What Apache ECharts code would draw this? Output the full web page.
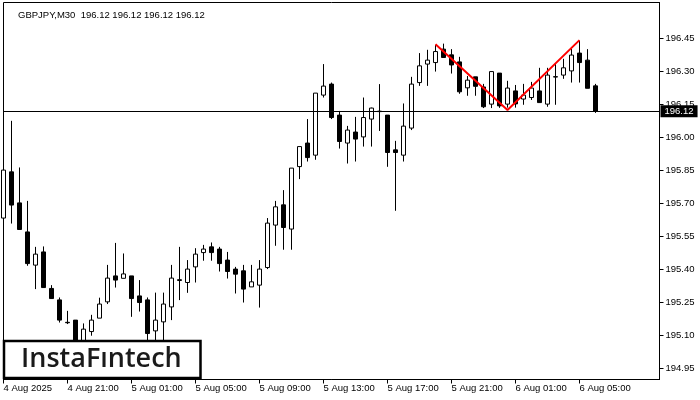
<!DOCTYPE html>
<html>
<head>
<meta charset="utf-8">
<script src="https://cdn.jsdelivr.net/npm/echarts@6/dist/echarts.min.js"></script>
<style>
html,body{margin:0;padding:0;background:#fff;}
#chart{width:700px;height:400px;}
</style>
</head>
<body>
<div id="chart"></div>
<script>
var categories = [
"4 Aug 17:00","4 Aug 17:30","4 Aug 18:00","4 Aug 18:30","4 Aug 19:00","4 Aug 19:30","4 Aug 20:00","4 Aug 20:30",
"4 Aug 21:00","4 Aug 21:30","4 Aug 22:00","4 Aug 22:30","4 Aug 23:00","4 Aug 23:30",
"5 Aug 00:00","5 Aug 00:30","5 Aug 01:00","5 Aug 01:30","5 Aug 02:00","5 Aug 02:30","5 Aug 03:00","5 Aug 03:30",
"5 Aug 04:00","5 Aug 04:30","5 Aug 05:00","5 Aug 05:30","5 Aug 06:00","5 Aug 06:30","5 Aug 07:00","5 Aug 07:30",
"5 Aug 08:00","5 Aug 08:30","5 Aug 09:00","5 Aug 09:30","5 Aug 10:00","5 Aug 10:30","5 Aug 11:00","5 Aug 11:30",
"5 Aug 12:00","5 Aug 12:30","5 Aug 13:00","5 Aug 13:30","5 Aug 14:00","5 Aug 14:30","5 Aug 15:00","5 Aug 15:30",
"5 Aug 16:00","5 Aug 16:30","5 Aug 17:00","5 Aug 17:30","5 Aug 18:00","5 Aug 18:30","5 Aug 19:00","5 Aug 19:30",
"5 Aug 20:00","5 Aug 20:30","5 Aug 21:00","5 Aug 21:30","5 Aug 22:00","5 Aug 22:30","5 Aug 23:00","5 Aug 23:30",
"6 Aug 00:00","6 Aug 00:30","6 Aug 01:00","6 Aug 01:30","6 Aug 02:00","6 Aug 02:30","6 Aug 03:00","6 Aug 03:30",
"6 Aug 04:00","6 Aug 04:30","6 Aug 05:00","6 Aug 05:30","6 Aug 06:00","6 Aug 06:30","6 Aug 07:00","6 Aug 07:30",
"6 Aug 08:00","6 Aug 08:30","6 Aug 09:00","6 Aug 09:30","6 Aug 10:00"
];

var openValues = [
195.634,195.844,195.703,195.571,195.420,195.480,195.314,195.262,195.160,195.170,
195.050,195.118,195.179,195.253,195.371,195.360,195.371,195.280,195.262,195.121,
195.162,195.230,195.350,195.341,195.412,195.477,195.503,195.493,195.443,195.402,
195.394,195.321,195.329,195.409,195.602,195.694,195.584,195.868,195.975,195.920,
196.193,196.243,196.102,195.975,196.025,196.003,196.084,196.118,196.102,195.944,
195.920,196.043,196.250,196.334,196.341,196.402,196.376,196.344,196.226,196.276,
196.230,196.152,196.293,196.152,196.212,196.175,196.182,196.212,196.152,196.275,
196.284,196.303,196.384,196.352,196.235
];
var closeValues = [
195.852,195.693,195.582,195.427,195.470,195.318,195.268,195.170,195.158,195.050,
195.129,195.170,195.243,195.361,195.352,195.380,195.268,195.250,195.109,195.170,
195.243,195.361,195.354,195.402,195.470,195.493,195.477,195.427,195.391,195.379,
195.311,195.344,195.402,195.611,195.685,195.591,195.861,195.959,195.909,196.202,
196.234,196.091,195.982,196.034,195.993,196.091,196.134,196.120,195.932,195.932,
196.052,196.243,196.326,196.352,196.391,196.364,196.330,196.208,196.261,196.233,
196.140,196.300,196.144,196.225,196.153,196.193,196.225,196.159,196.284,196.277,
196.317,196.375,196.341,196.224,196.120
];
var lowValues = [
195.545,195.609,195.580,195.417,195.311,195.316,195.266,195.159,195.152,195.010,
195.020,195.099,195.179,195.243,195.318,195.360,195.185,195.209,195.060,195.075,
195.076,195.170,195.261,195.294,195.341,195.440,195.440,195.391,195.359,195.291,
195.250,195.321,195.227,195.402,195.508,195.490,195.490,195.811,195.891,195.899,
196.182,196.084,195.950,195.882,195.891,195.959,195.959,196.030,195.867,195.667,
195.891,196.034,196.235,196.235,196.300,196.364,196.291,196.199,196.190,196.190,
196.134,196.134,196.135,196.136,196.136,196.149,196.171,196.159,196.140,196.149,
196.267,196.250,196.250,196.224,196.112
];
var highValues = [
195.909,196.076,195.864,195.712,195.503,195.505,195.329,195.273,195.212,195.170,
195.155,195.194,195.272,195.421,195.521,195.473,195.371,195.352,195.273,195.295,
195.295,195.421,195.503,195.443,195.497,195.512,195.523,195.503,195.480,195.412,
195.421,195.421,195.443,195.634,195.712,195.761,195.861,195.959,196.084,196.202,
196.334,196.250,196.121,196.053,196.094,196.182,196.136,196.243,196.102,195.985,
196.155,196.276,196.384,196.399,196.421,196.427,196.402,196.367,196.280,196.276,
196.244,196.300,196.293,196.258,196.239,196.244,196.253,196.317,196.317,196.335,
196.358,196.403,196.440,196.402,196.244
];

// double-top pattern outline (start, trough, end)
var patternIndex = [54, 63, 72];
var patternPrice = [196.424, 196.125, 196.443];

var lastPrice = 196.12;
var titleText = "GBPJPY,M30  196.12 196.12 196.12 196.12";
var priceTicks = [194.95,195.10,195.25,195.40,195.55,195.70,195.85,196.00,196.15,196.30,196.45];
var timeTickIndex = [0,8,16,24,32,40,48,56,64,72];
var timeTickLabels = ["4 Aug 2025","4 Aug 21:00","5 Aug 01:00","5 Aug 05:00","5 Aug 09:00","5 Aug 13:00","5 Aug 17:00","5 Aug 21:00","6 Aug 01:00","6 Aug 05:00"];

var candleData = openValues.map(function(o, i){
  return [o, closeValues[i], lowValues[i], highValues[i]];
});
var patternData = patternIndex.map(function(ix, k){ return [ix, patternPrice[k]]; });

var FONT = '"Liberation Sans", Arial, sans-serif';
var chart = echarts.init(document.getElementById('chart'), null, {renderer:'canvas'});
chart.setOption({
  animation: false,
  backgroundColor: '#ffffff',
  title: {
    text: titleText, left: 13, top: 5,
    textStyle: {fontSize: 9.5, fontWeight: 'normal', color: '#000', fontFamily: FONT}
  },
  grid: {
    left: 3.5, top: 2.5, width: 656, height: 377,
    show: true, borderColor: '#000', borderWidth: 1, backgroundColor: '#fff'
  },
  xAxis: {
    type: 'category', data: categories, boundaryGap: false,
    axisLine: {show: true, lineStyle: {color: '#000', width: 1}},
    axisTick: {show: true, length: 4, lineStyle: {color: '#000'},
      interval: function(i){ return timeTickIndex.indexOf(i) >= 0; }},
    axisLabel: {
      show: true, margin: 4, align: 'left', color: '#000', fontSize: 9.5, fontFamily: FONT,
      interval: function(i){ return timeTickIndex.indexOf(i) >= 0; },
      formatter: function(v, i){ var k = timeTickIndex.indexOf(i); return k >= 0 ? timeTickLabels[k] : ''; }
    },
    splitLine: {show: false}
  },
  yAxis: {
    type: 'value', position: 'right', min: 194.900, max: 196.614, scale: true,
    axisLine: {show: true, lineStyle: {color: '#000', width: 1}},
    axisTick: {show: true, length: 4, lineStyle: {color: '#000'}, customValues: priceTicks},
    axisLabel: {show: true, margin: 6, color: '#000', fontSize: 9.5, fontFamily: FONT,
      customValues: priceTicks, formatter: function(v){ return v.toFixed(2); }},
    splitLine: {show: false}
  },
  series: [
    {
      type: 'candlestick', data: candleData, barWidth: 4, clip: true,
      itemStyle: {color: '#ffffff', color0: '#000000', borderColor: '#000000', borderColor0: '#000000', borderWidth: 1},
      markLine: {
        silent: true, symbol: ['none','none'], animation: false,
        lineStyle: {color: '#000', width: 1, type: 'solid'},
        label: {show: true, position: 'end', distance: 1, formatter: lastPrice.toFixed(2),
          backgroundColor: '#000', color: '#fff', fontSize: 9.5, fontFamily: FONT, padding: [1,4,1,4]},
        data: [{yAxis: lastPrice}]
      },
      z: 2
    },
    {
      type: 'line', data: patternData, showSymbol: false, symbol: 'none',
      lineStyle: {color: '#ff0000', width: 2}, z: 5, silent: true
    }
  ],
  graphic: [
    {type: 'rect', z: 100, shape: {x: 4, y: 341, width: 196.5, height: 37},
      style: {fill: '#fff', stroke: '#000', lineWidth: 2.5}},
    {type: 'text', z: 101, x: 21, y: 359,
      style: {text: 'InstaFıntech', font: '600 27px "Open Sans", sans-serif', fill: '#1a1a1a',
        verticalAlign: 'middle', textVerticalAlign: 'middle', align: 'left'}}
  ]
});
</script>
</body>
</html>
